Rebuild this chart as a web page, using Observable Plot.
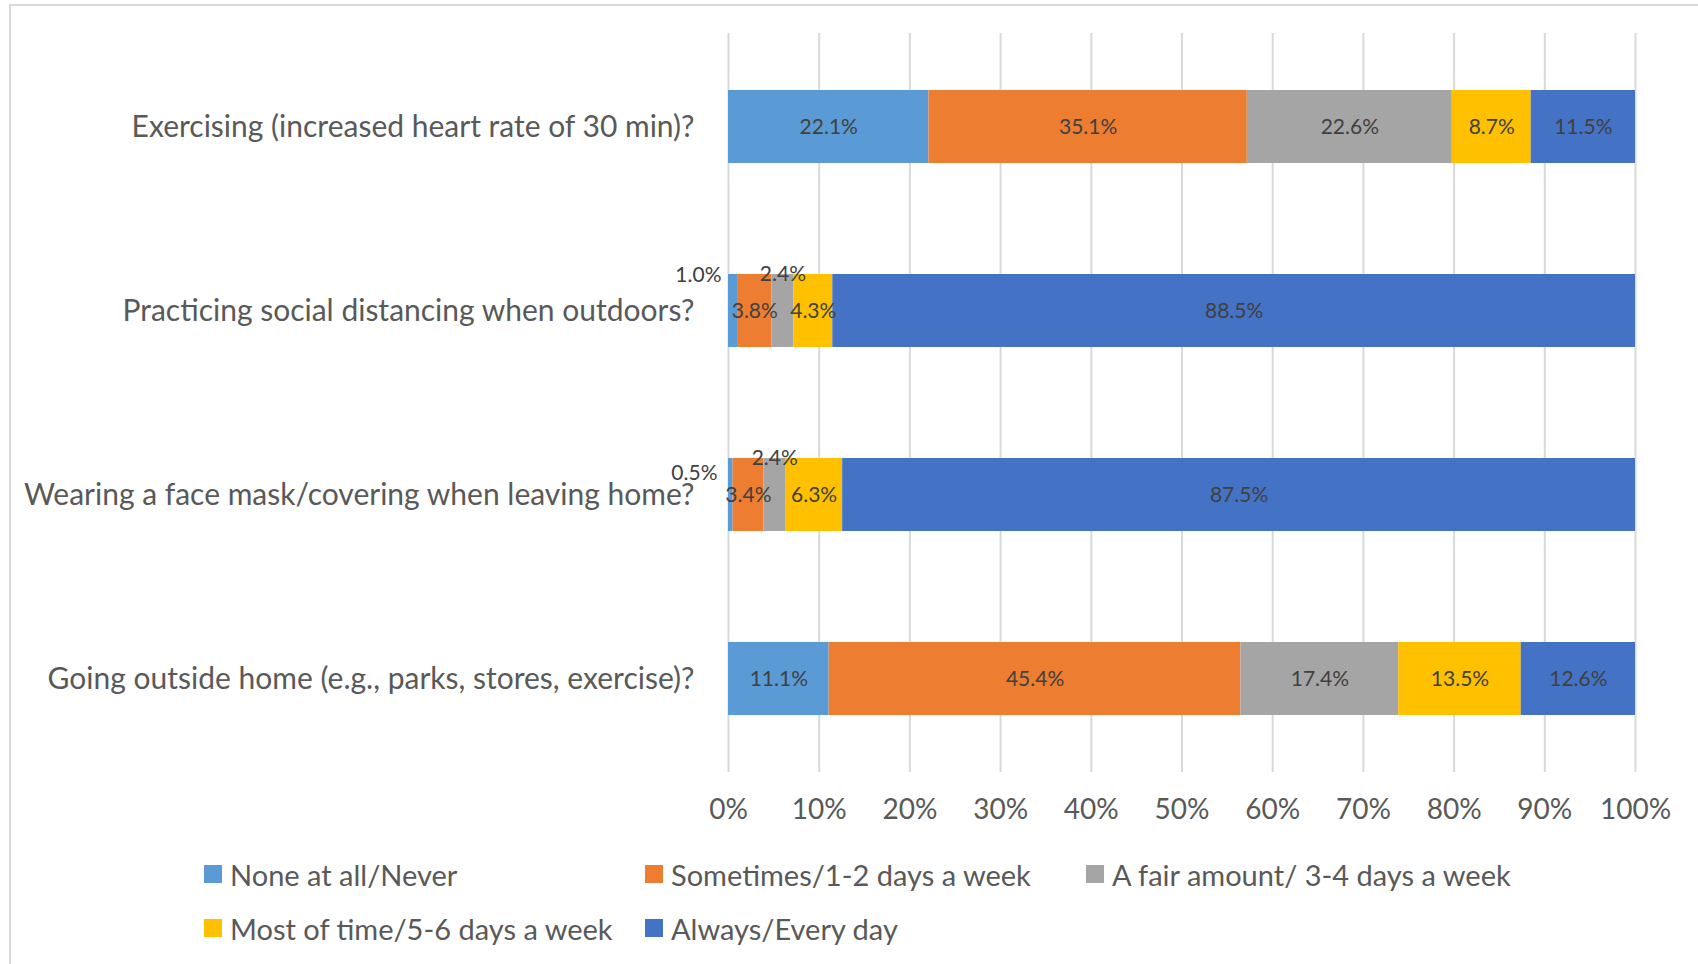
<!DOCTYPE html>
<html>
<head>
<meta charset="utf-8">
<script src="https://cdn.jsdelivr.net/npm/d3@7"></script>
<script src="https://cdn.jsdelivr.net/npm/@observablehq/plot@0.6"></script>
<style>
  html, body { margin: 0; padding: 0; background: #fff; width: 1698px; height: 964px; overflow: hidden; }
  body { position: relative; font-family: Lato, "Open Sans", sans-serif; }
  #frame { position: absolute; left: 9px; top: 4px; width: 1720px; height: 1000px; border: 2px solid #d9d9d9; box-sizing: border-box; }
  #chart { position: absolute; left: 0; top: 0; }
  .legend { position: absolute; display: flex; align-items: center; font-size: 29px; color: #595959; white-space: nowrap; }
  .legend .sw { width: 18px; height: 18px; margin-right: 8px; }
</style>
</head>
<body>
<div id="frame"></div>
<div id="chart"></div>
<div id="legend"></div>
<script>
const categories = [
  "Exercising (increased heart rate of 30 min)?",
  "Practicing social distancing when outdoors?",
  "Wearing a face mask/covering when leaving home?",
  "Going outside home (e.g., parks, stores, exercise)?"
];
const series = [
  "None at all/Never",
  "Sometimes/1-2 days a week",
  "A fair amount/ 3-4 days a week",
  "Most of time/5-6 days a week",
  "Always/Every day"
];
const colors = ["#5B9BD5", "#ED7D31", "#A5A5A5", "#FFC000", "#4472C4"];
const exercising = [22.1, 35.1, 22.6, 8.7, 11.5];
const socialDistancing = [1.0, 3.8, 2.4, 4.3, 88.5];
const faceMask = [0.5, 3.4, 2.4, 6.3, 87.5];
const goingOutside = [11.1, 45.4, 17.4, 13.5, 12.6];
const xTicks = [0, 0.1, 0.2, 0.3, 0.4, 0.5, 0.6, 0.7, 0.8, 0.9, 1.0];

const valuesByCategory = [exercising, socialDistancing, faceMask, goingOutside];
const rows = [];
categories.forEach((c, i) => {
  series.forEach((s, j) => {
    rows.push({category: c, series: s, value: valuesByCategory[i][j], si: j});
  });
});
const fmt = v => v.toFixed(1) + "%";
const isLeft = d => d.si === 0 && d.value < 2;
const isAbove = d => !isLeft(d) && d.value < 3;

const stackOpts = (extra) => Plot.stackX({x: "value", y: "category", z: "series", offset: "normalize", order: null, ...extra});

const chart = Plot.plot({
  width: 1698,
  height: 840,
  marginLeft: 728,
  marginRight: 63,
  marginTop: 33,
  marginBottom: 68,
  style: {fontFamily: "Lato, 'Open Sans', sans-serif", color: "#595959", background: "transparent"},
  x: {domain: [0, 1]},
  y: {domain: categories, paddingInner: 0.605, paddingOuter: 0.3025},
  color: {domain: series, range: colors},
  marks: [
    Plot.gridX(xTicks, {stroke: "#d9d9d9", strokeOpacity: 1, strokeWidth: 2}),
    Plot.barX(rows, stackOpts({fill: "series"})),
    Plot.text(rows, stackOpts({
      text: d => (isLeft(d) || isAbove(d)) ? "" : fmt(d.value),
      fill: "#404040", fontSize: 21
    })),
    Plot.text(rows, stackOpts({
      text: d => isAbove(d) ? fmt(d.value) : "",
      fill: "#404040", fontSize: 21, dy: -37
    })),
    Plot.text(rows, {
      x: 0, y: "category",
      text: d => (isLeft(d) && d.value >= 1) ? fmt(d.value) : "",
      fill: "#404040", fontSize: 21, textAnchor: "end", dx: -7, dy: -36
    }),
    Plot.text(rows, {
      x: 0, y: "category",
      text: d => (isLeft(d) && d.value < 1) ? fmt(d.value) : "",
      fill: "#404040", fontSize: 21, textAnchor: "end", dx: -11, dy: -22
    }),
    Plot.axisX(xTicks, {tickFormat: d3.format(".0%"), tickSize: 0, tickPadding: 27, fontSize: 28, fill: "#595959", label: null}),
    Plot.axisY({tickSize: 0, tickPadding: 34, fontSize: 30, fill: "#595959", label: null})
  ]
});
document.getElementById("chart").appendChild(chart);

const legendRows = [[0, 1, 2], [3, 4]];
const legendX = [204, 645, 1086];
const legendY = [874, 928];
const legendDiv = document.getElementById("legend");
legendRows.forEach((r, ri) => {
  r.forEach((si, ci) => {
    const item = document.createElement("div");
    item.className = "legend";
    item.style.left = legendX[ci] + "px";
    item.style.top = (legendY[ri] - 18) + "px";
    item.style.height = "36px";
    const sw = document.createElement("div");
    sw.className = "sw";
    sw.style.background = colors[si];
    const tx = document.createElement("span");
    tx.textContent = series[si];
    item.appendChild(sw);
    item.appendChild(tx);
    legendDiv.appendChild(item);
  });
});
</script>
</body>
</html>
